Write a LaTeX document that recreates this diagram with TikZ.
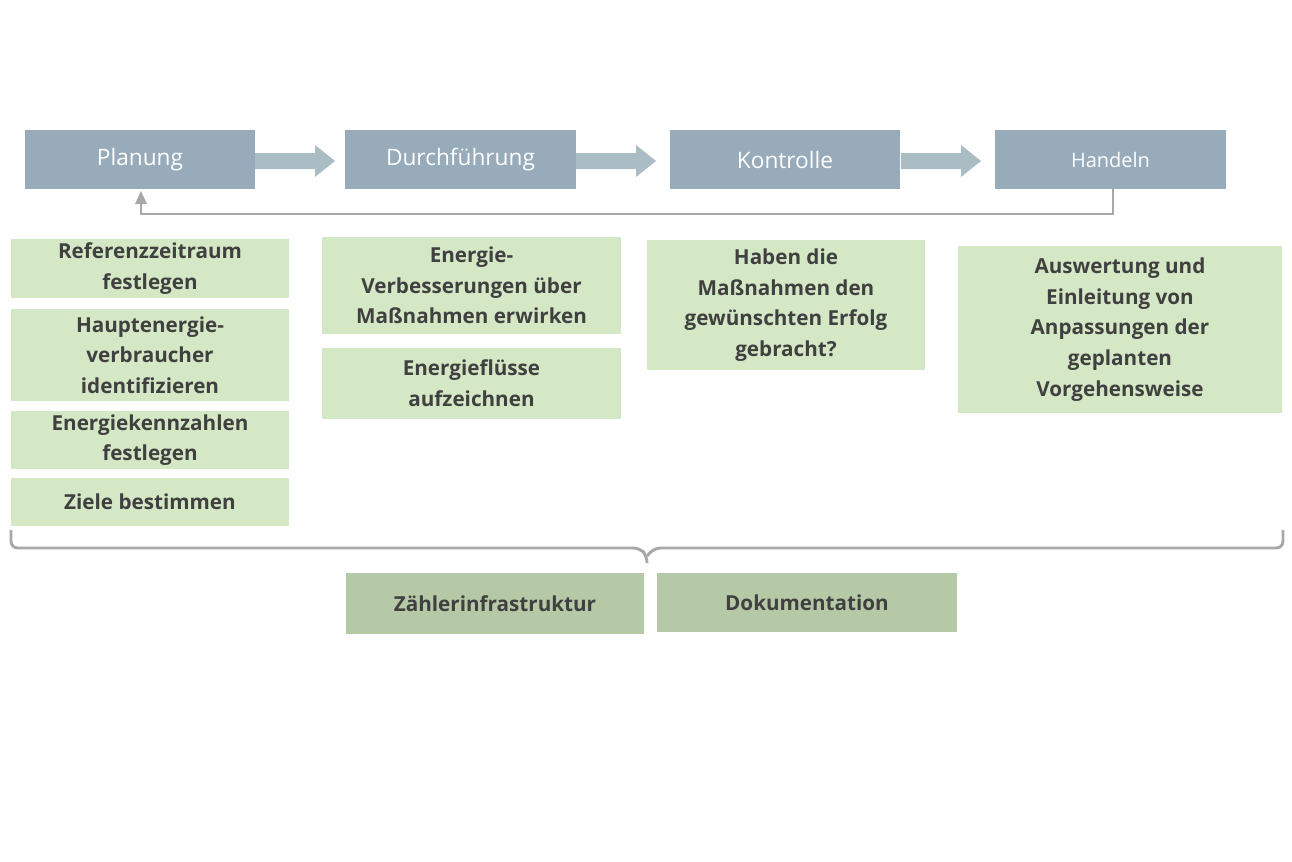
\documentclass[tikz,border=0pt]{standalone}
\usepackage{fontspec}
\setmainfont{Open Sans}
\usetikzlibrary{shapes.arrows}
\definecolor{topc}{HTML}{97ABBA}
\definecolor{arrc}{HTML}{AABDC5}
\definecolor{grn}{HTML}{D5E8C6}
\definecolor{dgrn}{HTML}{B6C9A7}
\definecolor{txt}{HTML}{404040}
\definecolor{lin}{HTML}{A8A8A8}
\begin{document}
\begin{tikzpicture}[x=0.75pt,y=-0.75pt,
  topbox/.style={fill=topc,text=white,font=\fontsize{17}{20}\selectfont},
  gbox/.style={fill=grn,text=txt,align=center,font=\bfseries\fontsize{15.5}{23}\selectfont},
  dbox/.style={fill=dgrn,text=txt,align=center,font=\bfseries\fontsize{15.5}{23}\selectfont},
  blk/.style={fill=arrc,draw=none},
  fb/.style={draw=lin,line width=2.2pt}]
\useasboundingbox (0,0) rectangle (1292,861);
\newcommand\bx[6]{\fill[#1] (#2,#3) rectangle (#4,#5); \node[#1,fill=none] (#6) at ({(#2+#4)/2},{(#3+#5)/2})}
\bx{topbox}{25}{130}{255}{189}{p}{Planung};
\bx{topbox}{345}{130}{576}{189}{d}{Durchführung};
\bx{topbox}{670}{130}{900}{189}{k}{Kontrolle};
\bx{topbox,font=\fontsize{15}{18}\selectfont}{995}{130}{1226}{189}{h}{Handeln};
\foreach \a in {255,576,901}{
 \fill[arrc] (\a,153) -- (\a+60,153) -- (\a+60,145) -- (\a+80,161) -- (\a+60,177) -- (\a+60,169) -- (\a,169) -- cycle;}
\coordinate (hb) at (1113,189);
\coordinate (pb) at (141,191);
\draw[fb] (hb) -- (1113,214) -- (141,214) -- (141,203);
\fill[lin] (pb) -- (135,204) -- (147,204) -- cycle;
\bx{gbox}{11}{239}{289}{298}{g1}{Referenzzeitraum\\festlegen};
\bx{gbox}{11}{309}{289}{401}{g2}{Hauptenergie-\\verbraucher\\identifizieren};
\bx{gbox}{11}{411}{289}{469}{g3}{Energiekennzahlen\\festlegen};
\bx{gbox}{11}{478}{289}{526}{g4}{Ziele bestimmen};
\bx{gbox}{322}{237}{621}{334}{g5}{Energie-\\Verbesserungen über\\Maßnahmen erwirken};
\bx{gbox}{322}{348}{621}{419}{g6}{Energieflüsse\\aufzeichnen};
\bx{gbox}{647}{240}{925}{370}{g7}{Haben die\\Maßnahmen den\\gewünschten Erfolg\\gebracht?};
\bx{gbox}{958}{246}{1282}{413}{g8}{Auswertung und\\Einleitung von\\Anpassungen der\\geplanten\\Vorgehensweise};
\draw[lin,line width=2.2pt,rounded corners=5pt] (11,530) -- (11,548) -- (640,548) -- (647,556) -- (647,563);
\draw[lin,line width=2.2pt,rounded corners=5pt] (1283,530) -- (1283,548) -- (654,548) -- (647,556);
\bx{dbox}{346}{573}{644}{634}{z}{Zählerinfrastruktur};
\bx{dbox}{657}{573}{957}{632}{dk}{Dokumentation};
\end{tikzpicture}
\end{document}
